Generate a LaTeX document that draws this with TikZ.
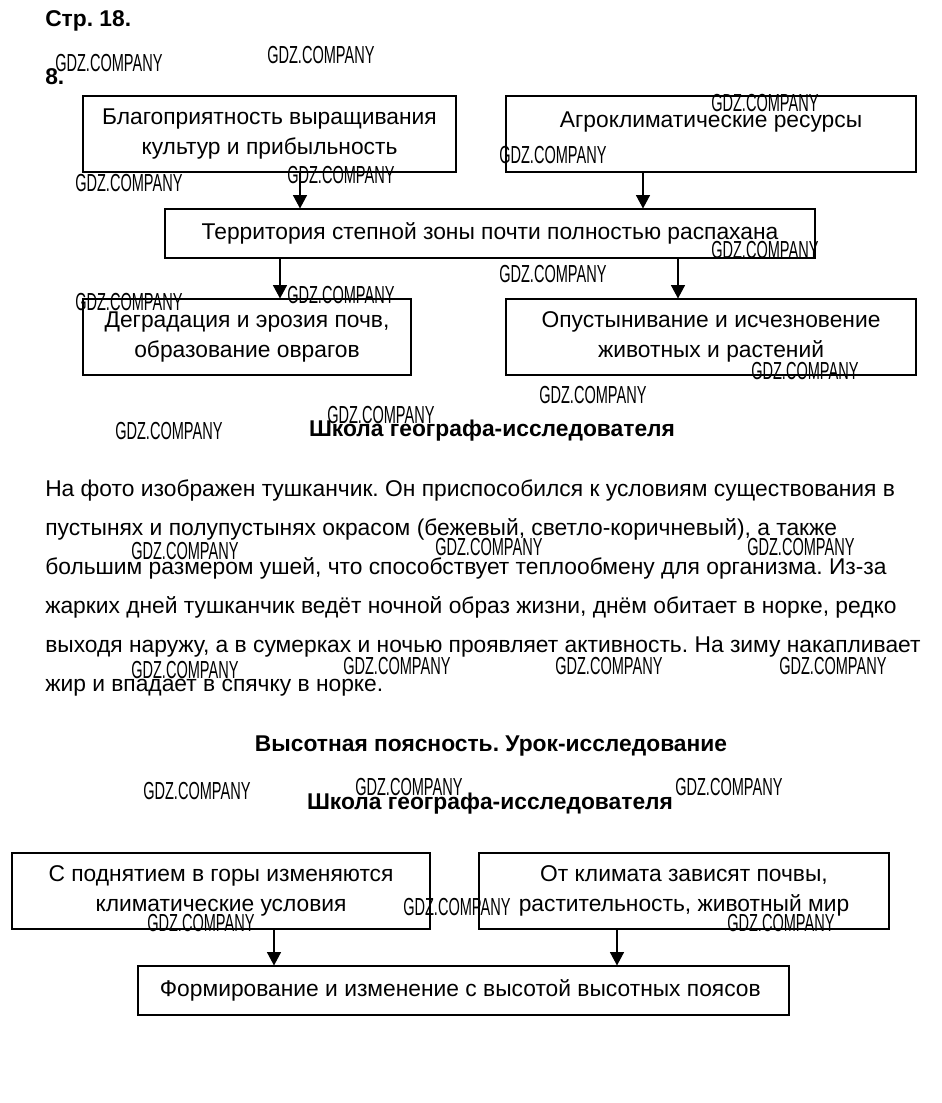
\documentclass[tikz,border=0pt]{standalone}
\usepackage{fontspec}
\setmainfont{Liberation Sans}
\usetikzlibrary{arrows.meta, positioning}
\frenchspacing

\begin{document}
\begin{tikzpicture}[x=0.75pt, y=-0.75pt, font=\fontsize{17.1}{22.1}\selectfont,
    box/.style={draw, line width=0.8pt, align=center, inner sep=0pt},
    arr/.style={-{Triangle[length=10pt, width=10.5pt]}, line width=0.8pt},
    wm/.style={font=\fontsize{18.5}{20}\selectfont, anchor=west, inner sep=0pt},
    head/.style={font=\fontsize{17.1}{20}\selectfont\bfseries, inner sep=0pt}]
    \useasboundingbox (0,0) rectangle (942,1103);
    % Заголовки
    \node[head, anchor=base west] (str) at (45,26) {Стр. 18.};
    \node[head, anchor=base west] (num) at (45,84) {8.};
    % Блоки: {имя}{x}{y}{ширина}{высота}{текст}
    \foreach \name/\cx/\cy/\w/\h/\txt in {
        blago/269.5/134/373/76/{Благоприятность выращивания\\культур и прибыльность},
        agro/711/134/410/76/{Агроклиматические ресурсы\\\mbox{}},
        terr/490/233.5/650/49/{Территория степной зоны почти полностью распахана},
        degr/247/337/328/76/{Деградация и эрозия почв,\\образование оврагов},
        opust/711/337/410/76/{Опустынивание и исчезновение\\животных и растений},
        podn/221/891/418/76/{С поднятием в горы изменяются\\климатические условия},
        klim/684/891/410/76/{От климата зависят почвы,\\растительность, животный мир},
        form/463.5/990.5/651/49/{Формирование и изменение с высотой высотных поясов}
    } {
        \node[box, minimum width=\w*0.75pt, minimum height=\h*0.75pt] (\name) at (\cx,\cy) {\txt};
    }
    % Стрелки
    \coordinate (xa) at (300,0);
    \coordinate (xb) at (643,0);
    \coordinate (xc) at (280,0);
    \coordinate (xd) at (678,0);
    \coordinate (xe) at (274,0);
    \coordinate (xf) at (617,0);
    \draw[arr] (blago.south -| xa) -- (terr.north -| xa);
    \draw[arr] (agro.south -| xb) -- (terr.north -| xb);
    \draw[arr] (terr.south -| xc) -- (degr.north -| xc);
    \draw[arr] (terr.south -| xd) -- (opust.north -| xd);
    \draw[arr] (podn.south -| xe) -- (form.north -| xe);
    \draw[arr] (klim.south -| xf) -- (form.north -| xf);
    % Текст
    \node[head, anchor=base] (shk1) at (492,436) {Школа географа-исследователя};
    \foreach \i/\txt in {
        1/{На фото изображен тушканчик. Он приспособился к условиям существования в},
        2/{пустынях и полупустынях окрасом (бежевый, светло-коричневый), а также},
        3/{большим размером ушей, что способствует теплообмену для организма. Из-за},
        4/{жарких дней тушканчик ведёт ночной образ жизни, днём обитает в норке, редко},
        5/{выходя наружу, а в сумерках и ночью проявляет активность. На зиму накапливает},
        6/{жир и впадает в спячку в норке.}
    } {
        \node[anchor=base west, inner sep=0pt] (par\i) at (45,496+39*\i-39) {\txt};
    }
    \node[head, anchor=base] (vys) at (491,751) {Высотная поясность. Урок-исследование};
    \node[head, anchor=base] (shk2) at (490,809) {Школа географа-исследователя};
    % Водяные знаки
    \foreach \wx/\wy in {55/63, 267/55, 711/103, 499/155, 75/183, 287/175, 711/250,
        499/274, 75/302, 287/295, 751/371, 539/395, 115/431, 327/415, 131/551,
        435/547, 747/547, 131/670, 343/666, 555/666, 779/666, 143/791, 355/787,
        675/787, 403/907, 147/923, 727/923} {
        \node[wm] at (\wx,\wy) {\scalebox{0.59}[1]{GDZ.COMPANY}};
    }
\end{tikzpicture}
\end{document}
